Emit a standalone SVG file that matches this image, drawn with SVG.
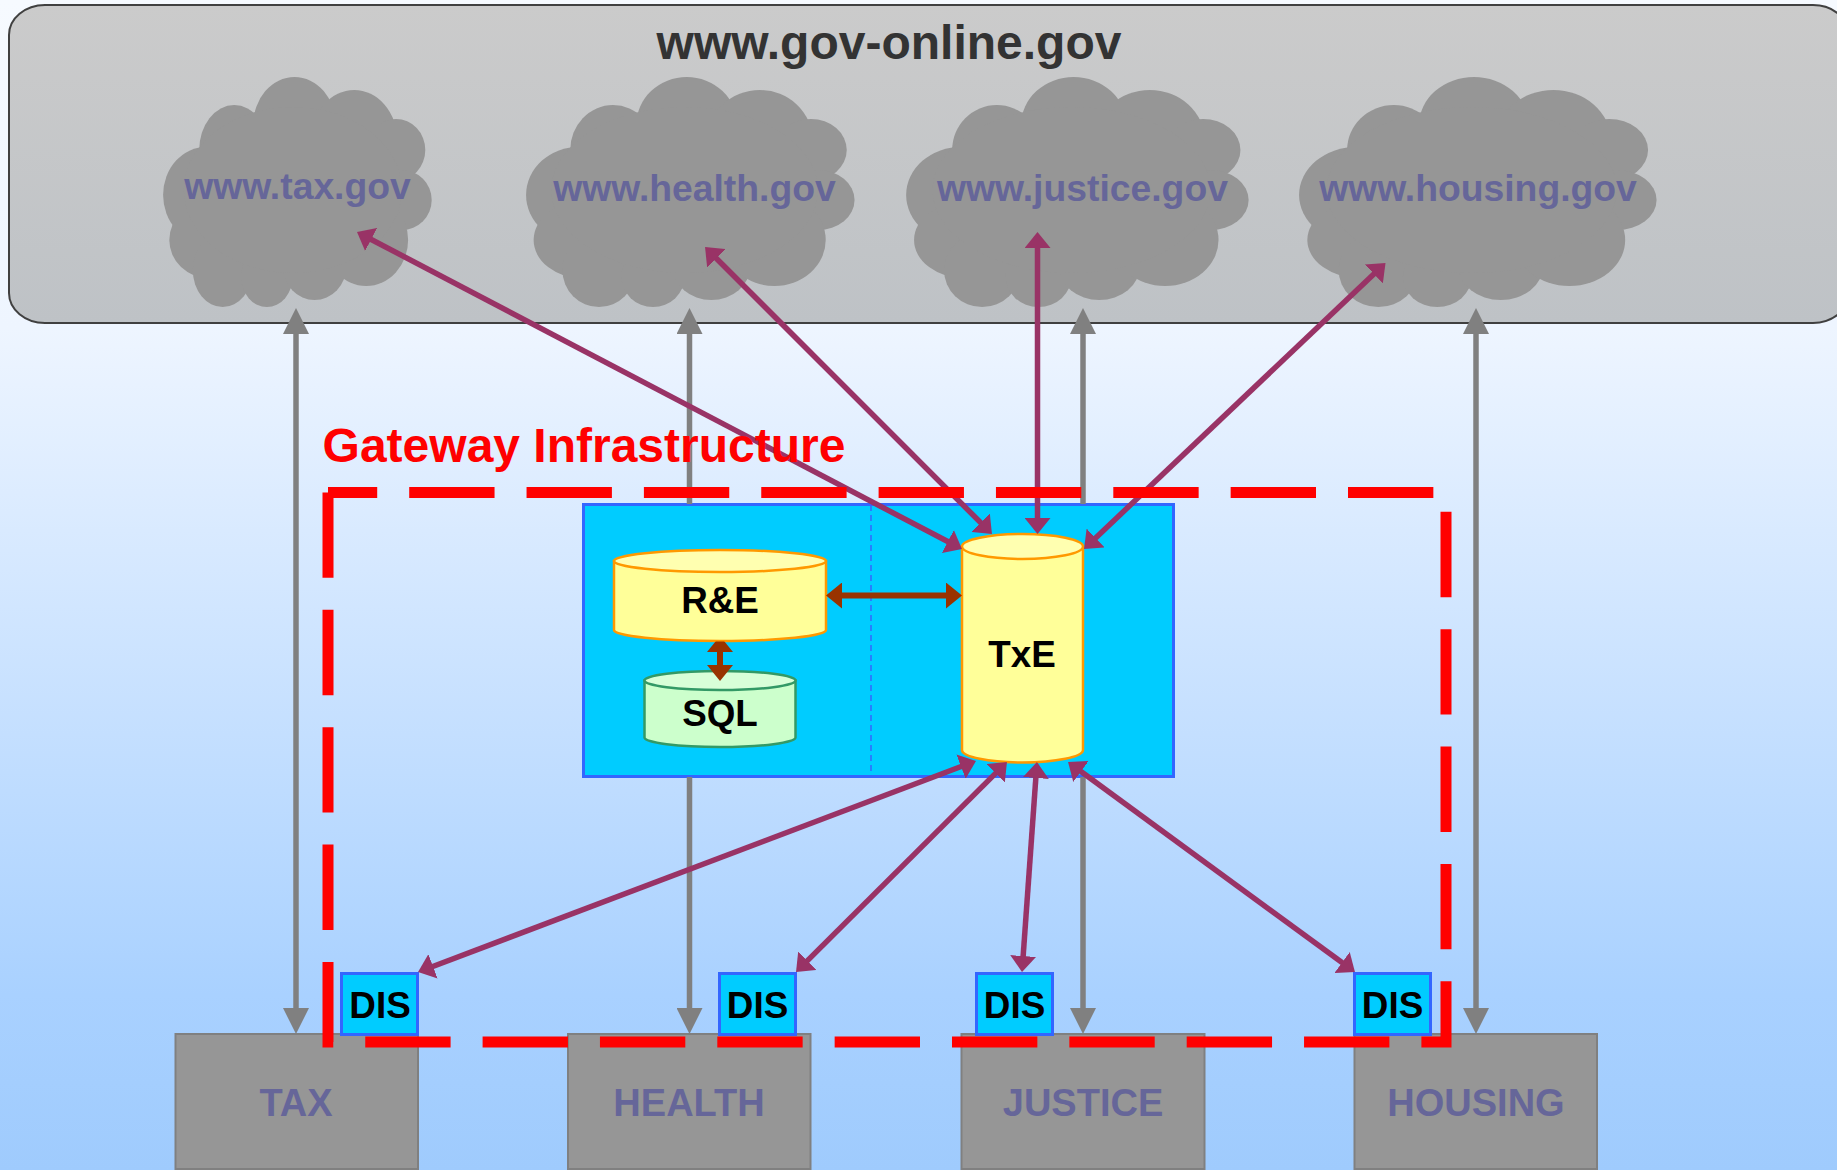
<svg xmlns="http://www.w3.org/2000/svg" xmlns:xlink="http://www.w3.org/1999/xlink" width="1837" height="1170" viewBox="0 0 1837 1170">
<style>
text{font-family:"Liberation Sans",Arial,sans-serif;font-weight:700;text-anchor:middle}
.dom{font-size:37.300px;fill:#666699}
.dept{font-size:38px;fill:#666699}
.blk{font-size:36.800px;fill:#000}
.box{fill:#969696;stroke:#808080;stroke-width:2}
.dis{fill:#00ccff;stroke:#3366ff;stroke-width:3}
.yb{fill:#ffff99;stroke:#ff9900;stroke-width:2.500}
.yt{fill:#ffffb0;stroke:#ff9900;stroke-width:2.500}
.gb{fill:#ccffcc;stroke:#339966;stroke-width:2.500}
.gt{fill:#d8ffd8;stroke:#339966;stroke-width:2.500}
.grey{stroke:#808080;stroke-width:5.500;fill:none}
.pur{stroke:#993366;stroke-width:5.500;fill:none;marker-start:url(#mp);marker-end:url(#mp)}
.brn{stroke:#993300;stroke-width:6;fill:none;marker-start:url(#mb);marker-end:url(#mb)}
</style>
<defs>
<linearGradient id="bg" gradientUnits="userSpaceOnUse" x1="0" y1="0" x2="0" y2="1170">
<stop offset="0" stop-color="#f6faff"/><stop offset="0.28" stop-color="#eef5ff"/><stop offset="0.85" stop-color="#a9d1ff"/><stop offset="1" stop-color="#9fcbfd"/>
</linearGradient>
<linearGradient id="pn" x1="0" y1="0" x2="0" y2="1">
<stop offset="0" stop-color="#cbcbcb"/><stop offset="1" stop-color="#bec2c6"/>
</linearGradient>
<marker id="mg" markerUnits="userSpaceOnUse" markerWidth="26" markerHeight="26" refX="13" refY="13" orient="auto-start-reverse"><path d="M0 0L26 13L0 26Z" fill="#808080"/></marker>
<marker id="mp" markerUnits="userSpaceOnUse" markerWidth="16" markerHeight="26" refX="8" refY="13" orient="auto-start-reverse"><path d="M0 0L16 13L0 26Z" fill="#993366"/></marker>
<marker id="mb" markerUnits="userSpaceOnUse" markerWidth="16" markerHeight="26" refX="8" refY="13" orient="auto-start-reverse"><path d="M0 0L16 13L0 26Z" fill="#993300"/></marker>
<clipPath id="belowRE"><rect x="690" y="641.500" width="60" height="60"/></clipPath>
<g id="cloud" fill="#969696">
<ellipse cx="294.500" cy="125" rx="41.300" ry="48"/><ellipse cx="234.200" cy="150" rx="35" ry="45"/><ellipse cx="354.200" cy="140" rx="43" ry="50"/><ellipse cx="396" cy="150" rx="29.300" ry="31"/><ellipse cx="401.800" cy="200" rx="29.900" ry="30"/><ellipse cx="206.700" cy="195" rx="43.600" ry="48.300"/><ellipse cx="209.500" cy="240" rx="40.200" ry="38.300"/><ellipse cx="222.700" cy="270" rx="29.900" ry="37"/><ellipse cx="266.900" cy="276.700" rx="25.800" ry="30.300"/><ellipse cx="314.600" cy="266.700" rx="31.600" ry="33.300"/><ellipse cx="366.200" cy="240" rx="41.900" ry="46"/><ellipse cx="292.800" cy="190" rx="109" ry="83"/>
</g>
</defs>
<rect width="1837" height="1170" fill="url(#bg)"/>
<g id="portal">
<rect x="9" y="5" width="1840" height="318" rx="36" ry="30" fill="url(#pn)" stroke="#404040" stroke-width="2"/>
<text x="889" y="59" font-size="48" fill="#333">www.gov-online.gov</text>
</g>
<g id="cloud-tax"><use xlink:href="#cloud" href="#cloud"/><text class="dom" x="297.500" y="199">www.tax.gov</text></g>
<g id="cloud-health"><use xlink:href="#cloud" href="#cloud" transform="matrix(1.223 0 0 1 326.600 0)"/><text class="dom" x="694.500" y="201">www.health.gov</text></g>
<g id="cloud-justice"><use xlink:href="#cloud" href="#cloud" transform="matrix(1.275 0 0 1 698.200 0)"/><text class="dom" x="1082.500" y="201">www.justice.gov</text></g>
<g id="cloud-housing"><use xlink:href="#cloud" href="#cloud" transform="matrix(1.331 0 0 1 1082 0)"/><text class="dom" x="1478" y="201">www.housing.gov</text></g>
<g id="dept-tax"><rect class="box" x="175.500" y="1034" width="242.500" height="135"/><text class="dept" x="296" y="1116">TAX</text></g>
<g id="dept-health"><rect class="box" x="568" y="1034" width="242.500" height="135"/><text class="dept" x="689" y="1116">HEALTH</text></g>
<g id="dept-justice"><rect class="box" x="961.500" y="1034" width="243" height="135"/><text class="dept" x="1083" y="1116">JUSTICE</text></g>
<g id="dept-housing"><rect class="box" x="1354.500" y="1034" width="242.500" height="135"/><text class="dept" x="1476" y="1116">HOUSING</text></g>
<g id="gateway-core">
<rect x="583.500" y="504.500" width="590" height="272" fill="#00ccff" stroke="#3366ff" stroke-width="3"/>
<line x1="871" y1="505" x2="871" y2="776" stroke="#3366ff" stroke-width="1.500" stroke-dasharray="6 4"/>
</g>
<g id="sql"><path class="gb" d="M644.500 680.500V737.500A75.500 9.500 0 0 0 795.500 737.500V680.500Z"/><ellipse class="gt" cx="720" cy="680.500" rx="75.500" ry="9.500"/><text class="blk" x="720" y="726">SQL</text></g>
<g id="re"><path class="yb" d="M614 561V630A106 11 0 0 0 826 630V561Z"/><ellipse class="yt" cx="720" cy="561" rx="106" ry="11"/><text class="blk" x="720" y="613">R&amp;E</text></g>
<g id="txe"><path class="yb" d="M962 546.500V750A60.500 12.500 0 0 0 1083 750V546.500Z"/><ellipse class="yt" cx="1022.500" cy="546.500" rx="60.500" ry="12.500"/><text class="blk" x="1022" y="667">TxE</text></g>
<g id="dis-tax"><rect class="dis" x="341.500" y="973.500" width="76" height="61"/><text class="blk" x="380" y="1018">DIS</text></g>
<g id="dis-health"><rect class="dis" x="719.500" y="973.500" width="76" height="61"/><text class="blk" x="757.500" y="1018">DIS</text></g>
<g id="dis-justice"><rect class="dis" x="976.500" y="973.500" width="76" height="61"/><text class="blk" x="1014.500" y="1018">DIS</text></g>
<g id="dis-housing"><rect class="dis" x="1354.500" y="973.500" width="76" height="61"/><text class="blk" x="1392.500" y="1018">DIS</text></g>
<g id="connectors">
<line class="grey" x1="296" y1="321" x2="296" y2="1021" marker-start="url(#mg)" marker-end="url(#mg)"/>
<line class="grey" x1="689.500" y1="321" x2="689.500" y2="504" marker-start="url(#mg)"/>
<line class="grey" x1="689.500" y1="777" x2="689.500" y2="1021" marker-end="url(#mg)"/>
<line class="grey" x1="1083" y1="321" x2="1083" y2="504" marker-start="url(#mg)"/>
<line class="grey" x1="1083" y1="777" x2="1083" y2="1021" marker-end="url(#mg)"/>
<line class="grey" x1="1476" y1="321" x2="1476" y2="1021" marker-start="url(#mg)" marker-end="url(#mg)"/>
<line class="pur" x1="364.100" y1="235.700" x2="954.900" y2="545.300"/>
<line class="pur" x1="710.700" y1="252.700" x2="986.300" y2="528.300"/>
<line class="pur" x1="1037.500" y1="240" x2="1037.500" y2="526"/>
<line class="pur" x1="1379.700" y1="268.500" x2="1089.800" y2="543.500"/>
<line class="pur" x1="968.500" y1="763.800" x2="425.500" y2="969.200"/>
<line class="pur" x1="1001.300" y1="767.600" x2="801.700" y2="966.400"/>
<line class="pur" x1="1036.400" y1="770" x2="1022.600" y2="964"/>
<line class="pur" x1="1074.500" y1="766.700" x2="1348.500" y2="967.300"/>
<line class="brn" x1="834" y1="595.500" x2="954" y2="595.500"/>
<g clip-path="url(#belowRE)"><line class="brn" x1="720" y1="644" x2="720" y2="673"/></g>
</g>
<g id="gateway-frame">
<path d="M328 492.500V1042H1446V492.500H328" fill="none" stroke="#ff0000" stroke-width="11" stroke-dasharray="85.350 32"/>
<text x="584" y="462" font-size="48" fill="#ff0000">Gateway Infrastructure</text>
</g>
</svg>
